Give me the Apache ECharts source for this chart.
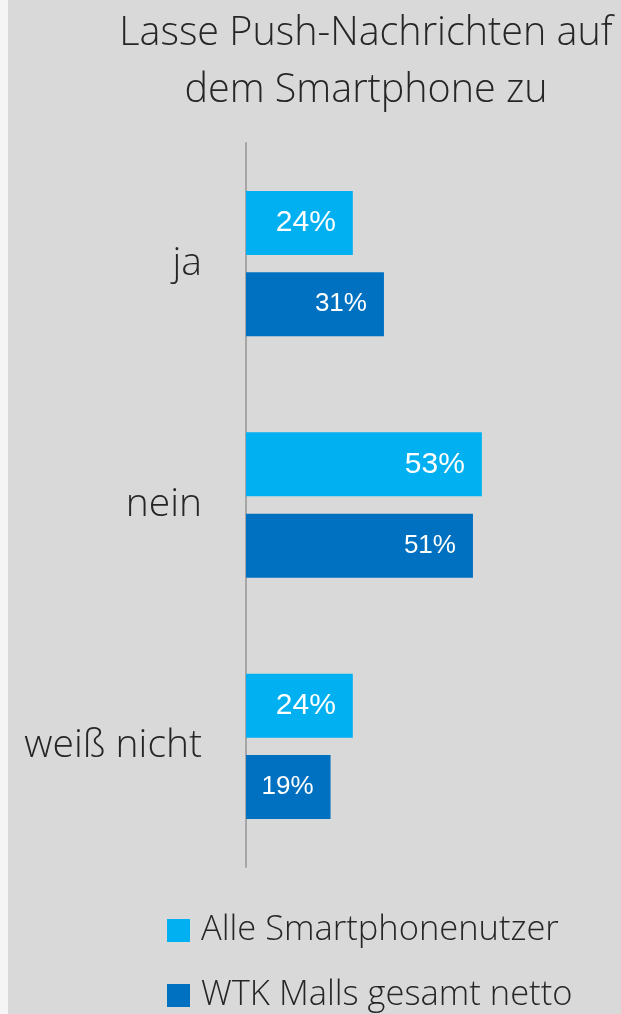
<!DOCTYPE html>
<html>
<head>
<meta charset="utf-8">
<script src="https://cdn.jsdelivr.net/npm/echarts@6/dist/echarts.min.js"></script>
<style>
html,body{margin:0;padding:0;background:#f5f5f5;}
#chart{width:621px;height:1014px;}
</style>
</head>
<body>
<div id="chart"></div>
<script>
const titleText = "Lasse Push-Nachrichten auf\ndem Smartphone zu";
const categories = ["ja", "nein", "weiß nicht"];
const seriesNames = ["Alle Smartphonenutzer", "WTK Malls gesamt netto"];
const alleValues = [24, 53, 24];
const wtkValues = [31, 51, 19];

const lightFont = "'Open Sans', 'Segoe UI', sans-serif";
const chart = echarts.init(document.getElementById('chart'));
chart.setOption({
  backgroundColor: '#d9d9d9',
  animation: false,
  graphic: [{
    type: 'rect', left: 0, top: 0, shape: {x: 0, y: 0, width: 8, height: 1014},
    style: {fill: '#f5f5f5'}, silent: true
  }],
  title: {
    text: titleText,
    left: 366,
    top: 5,
    padding: 0,
    textAlign: 'center',
    textStyle: {
      fontFamily: lightFont, fontWeight: 300, fontSize: 39.5, lineHeight: 57, color: '#262626'
    }
  },
  grid: {left: 246, right: 108, top: 143, bottom: 147, containLabel: false},
  xAxis: {
    type: 'value', min: 0, max: 60, show: false
  },
  yAxis: {
    type: 'category', data: categories, inverse: true,
    axisLine: {show: true, lineStyle: {color: '#a6a6a6', width: 2}},
    axisTick: {show: false},
    axisLabel: {
      margin: 44, fontFamily: lightFont, fontWeight: 300, fontSize: 39, color: '#262626'
    }
  },
  legend: {
    orient: 'vertical', left: 167, top: 913, padding: 0,
    itemWidth: 23, itemHeight: 23, itemGap: 30,
    icon: 'rect',
    textStyle: {fontFamily: lightFont, fontWeight: 300, fontSize: 34.5, color: '#262626', padding: [0, 0, 0, 6]},
    data: seriesNames
  },
  series: [
    {
      name: seriesNames[0], type: 'bar', data: alleValues,
      barWidth: 64, barGap: '27%',
      itemStyle: {color: '#00b0f0'},
      label: {show: true, position: 'insideRight', distance: 17, formatter: '{c}%',
        fontFamily: "'Liberation Sans', Arial, sans-serif", fontSize: 30, color: '#ffffff'}
    },
    {
      name: seriesNames[1], type: 'bar', data: wtkValues,
      barWidth: 64, barGap: '27%',
      itemStyle: {color: '#0070c0'},
      label: {show: true, position: 'insideRight', distance: 17, formatter: '{c}%',
        fontFamily: "'Liberation Sans', Arial, sans-serif", fontSize: 26, color: '#ffffff'}
    }
  ]
});
</script>
</body>
</html>
